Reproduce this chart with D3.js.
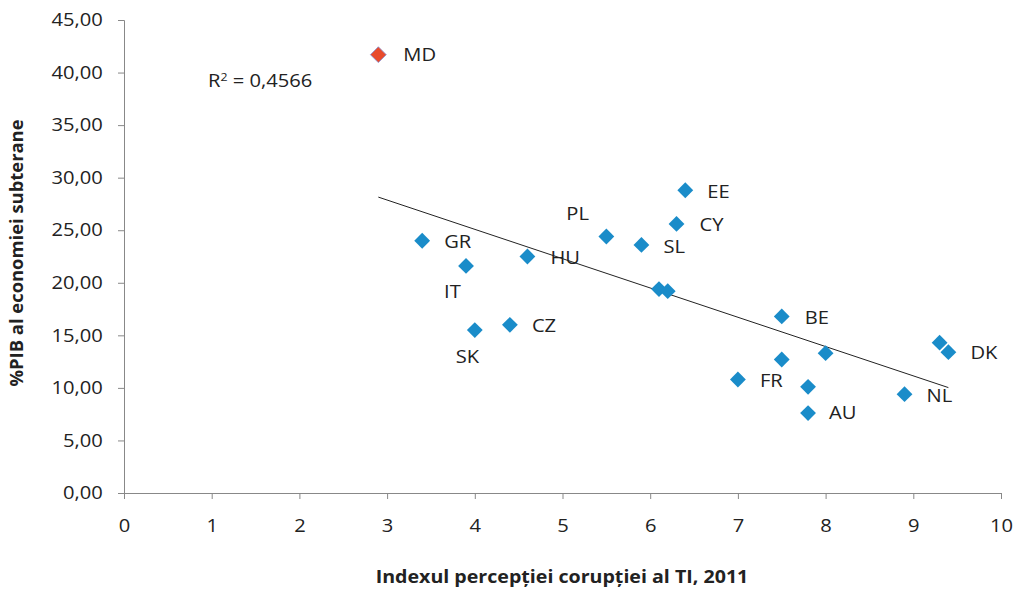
<html>
<head>
<meta charset="utf-8">
<script src="https://d3js.org/d3.v7.min.js"></script>
<style>
  body { margin: 0; background: #fff; }
  text { font-family: "Open Sans", "Noto Sans", sans-serif; fill: #222; }
</style>
</head>
<body>
<svg width="1014" height="589"></svg>
<script>
// data
var countries = ["MD", "EE", "CY", "PL", "SL", "GR", "IT", "HU", "", "", "CZ", "SK", "BE", "", "", "FR", "", "AU", "NL", "", "DK"];
var cpi      = [2.9, 6.4, 6.3, 5.5, 5.9, 3.4, 3.9, 4.6, 6.1, 6.2, 4.4, 4.0, 7.5, 7.5, 8.0, 7.0, 7.8, 7.8, 8.9, 9.3, 9.4];
var shadow   = [41.7, 28.8, 25.6, 24.4, 23.6, 24.0, 21.6, 22.5, 19.4, 19.2, 16.0, 15.5, 16.8, 12.7, 13.3, 10.8, 10.1, 7.6, 9.4, 14.3, 13.4];
var xTicks = [0, 1, 2, 3, 4, 5, 6, 7, 8, 9, 10];
var yTicks = [0, 5, 10, 15, 20, 25, 30, 35, 40, 45];
var rSquared = "0,4566";

// label offsets (px) from each point
var labelOffset = {
  MD: [25, 0], EE: [22, 1], CY: [23, 1], PL: [-40, -23], SL: [22, 2], GR: [22, 1],
  IT: [-22, 26], HU: [23, 1], CZ: [22, 1], SK: [-19, 27], BE: [23, 1], FR: [22, 1],
  AU: [21, 0], NL: [22, 1], DK: [22, 1]
};

// the source picture is a bit wider than tall, so text is stretched a little
var sx = 1.12;

var svg = d3.select("svg");
var x = d3.scaleLinear().domain([0, 10]).range([124, 1001]);
var y = d3.scaleLinear().domain([0, 45]).range([493, 20]);

var fmt = function(d) { return d3.format(".2f")(d).replace(".", ","); };

// y axis
var gy = svg.append("g").attr("transform", "translate(124,0)")
  .call(d3.axisLeft(y).tickValues(yTicks).tickFormat(fmt).tickSize(6).tickPadding(13));
// x axis
var gx = svg.append("g").attr("transform", "translate(0,493)")
  .call(d3.axisBottom(x).tickValues(xTicks).tickSize(6).tickPadding(20));
[gx, gy].forEach(function(g) {
  g.selectAll("path, line").attr("stroke", "#888").attr("stroke-width", 1);
  g.selectAll("text").style("font-size", "18px").attr("fill", "#222")
    .attr("transform", "scale(" + sx + ",1)");
});

// trend line (least squares)
var pts = cpi.map(function(v, i) { return [v, shadow[i]]; });
var mx = d3.mean(cpi), my = d3.mean(shadow);
var slope = d3.sum(pts, function(p) { return (p[0] - mx) * (p[1] - my); }) /
            d3.sum(pts, function(p) { return (p[0] - mx) * (p[0] - mx); });
var icpt = my - slope * mx;
var x0 = d3.min(cpi), x1 = d3.max(cpi);
svg.append("line")
  .attr("x1", x(x0)).attr("y1", y(icpt + slope * x0))
  .attr("x2", x(x1)).attr("y2", y(icpt + slope * x1))
  .attr("stroke", "#222").attr("stroke-width", 1);

// points
svg.append("g").selectAll("path").data(pts).enter().append("path")
  .attr("d", d3.symbol().type(d3.symbolSquare).size(125))
  .attr("transform", function(d) { return "translate(" + x(d[0]) + "," + y(d[1]) + ") rotate(45)"; })
  .attr("fill", function(d, i) { return i === 0 ? "#e84b2c" : "#1a8cc9"; })
  .attr("stroke", function(d, i) { return i === 0 ? "#8a8fd0" : "none"; })
  .attr("stroke-width", 0.8);

// labels
svg.append("g").selectAll("text").data(pts).enter().filter(function(d, i) { return countries[i] !== ""; })
  .append("text")
  .attr("transform", function(d) {
    var off = labelOffset[countries[pts.indexOf(d)]];
    return "translate(" + (x(d[0]) + off[0]) + "," + (y(d[1]) + off[1]) + ") scale(" + sx + ",1)";
  })
  .attr("dy", "0.35em")
  .style("font-size", "18px")
  .text(function(d) { return countries[pts.indexOf(d)]; });

// R squared
var rt = svg.append("text").attr("transform", "translate(208,87) scale(" + sx + ",1)").style("font-size", "18px");
rt.append("tspan").text("R");
rt.append("tspan").attr("dy", -6).style("font-size", "11px").text("2");
rt.append("tspan").attr("dy", 6).text(" = " + rSquared);

// axis titles
svg.append("text").attr("transform", "translate(562,583) scale(1.09,1)").attr("text-anchor", "middle")
  .style("font-size", "18px").style("font-weight", "bold")
  .text("Indexul percepției corupției al TI, 2011");
svg.append("text").attr("transform", "translate(23,253) rotate(-90)").attr("text-anchor", "middle")
  .style("font-size", "18.4px").style("font-weight", "bold")
  .text("%PIB al economiei subterane");
</script>
</body>
</html>
